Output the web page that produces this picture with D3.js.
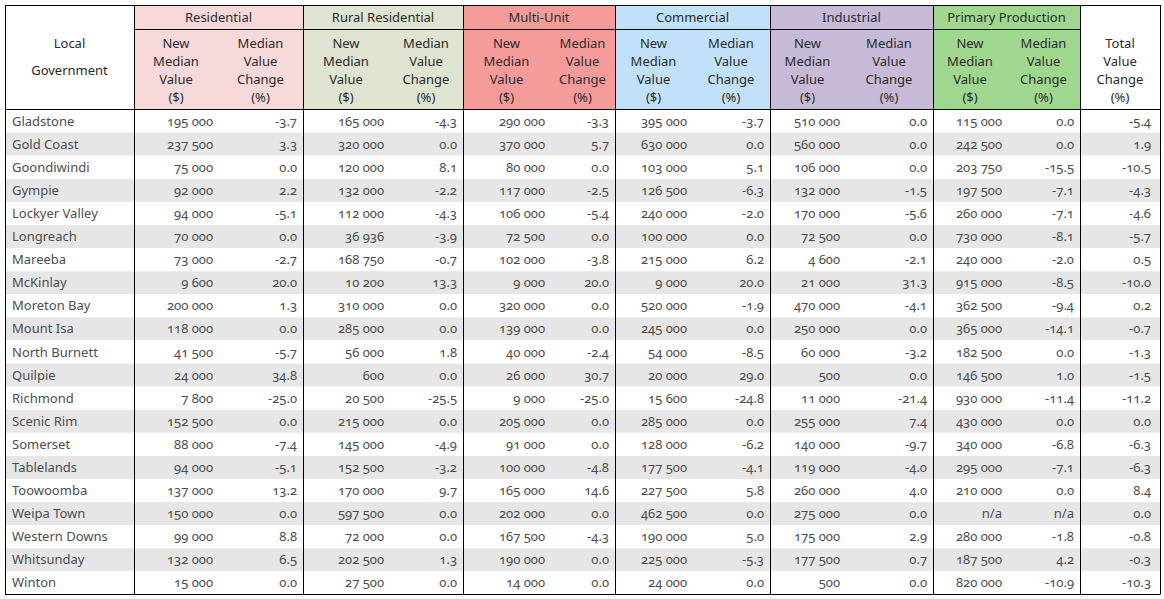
<!DOCTYPE html>
<html>
<head>
<meta charset="utf-8">
<script src="https://cdn.jsdelivr.net/npm/d3@7"></script>
<style>
  body { margin: 0; background: #fff; }
  svg text { font-family: "Noto Sans", "Open Sans", sans-serif; font-variant-numeric: oldstyle-nums; }
</style>
</head>
<body>
<svg></svg>
<script>
const lgas = ["Gladstone", "Gold Coast", "Goondiwindi", "Gympie", "Lockyer Valley", "Longreach", "Mareeba",
  "McKinlay", "Moreton Bay", "Mount Isa", "North Burnett", "Quilpie", "Richmond", "Scenic Rim", "Somerset",
  "Tablelands", "Toowoomba", "Weipa Town", "Western Downs", "Whitsunday", "Winton"]

const categories = ["Residential", "Rural Residential", "Multi-Unit", "Commercial", "Industrial", "Primary Production"]

const residentialValue = [195000, 237500, 75000, 92000, 94000, 70000, 73000, 9600, 200000, 118000, 41500, 24000, 7800, 152500, 88000, 94000, 137000, 150000, 99000, 132000, 15000]
const residentialChange = [-3.7, 3.3, 0.0, 2.2, -5.1, 0.0, -2.7, 20.0, 1.3, 0.0, -5.7, 34.8, -25.0, 0.0, -7.4, -5.1, 13.2, 0.0, 8.8, 6.5, 0.0]

const ruralValue = [165000, 320000, 120000, 132000, 112000, 36936, 168750, 10200, 310000, 285000, 56000, 600, 20500, 215000, 145000, 152500, 170000, 597500, 72000, 202500, 27500]
const ruralChange = [-4.3, 0.0, 8.1, -2.2, -4.3, -3.9, -0.7, 13.3, 0.0, 0.0, 1.8, 0.0, -25.5, 0.0, -4.9, -3.2, 9.7, 0.0, 0.0, 1.3, 0.0]

const multiValue = [290000, 370000, 80000, 117000, 106000, 72500, 102000, 9000, 320000, 139000, 40000, 26000, 9000, 205000, 91000, 100000, 165000, 202000, 167500, 190000, 14000]
const multiChange = [-3.3, 5.7, 0.0, -2.5, -5.4, 0.0, -3.8, 20.0, 0.0, 0.0, -2.4, 30.7, -25.0, 0.0, 0.0, -4.8, 14.6, 0.0, -4.3, 0.0, 0.0]

const commercialValue = [395000, 630000, 103000, 126500, 240000, 100000, 215000, 9000, 520000, 245000, 54000, 20000, 15600, 285000, 128000, 177500, 227500, 462500, 190000, 225000, 24000]
const commercialChange = [-3.7, 0.0, 5.1, -6.3, -2.0, 0.0, 6.2, 20.0, -1.9, 0.0, -8.5, 29.0, -24.8, 0.0, -6.2, -4.1, 5.8, 0.0, 5.0, -5.3, 0.0]

const industrialValue = [510000, 560000, 106000, 132000, 170000, 72500, 4600, 21000, 470000, 250000, 60000, 500, 11000, 255000, 140000, 119000, 260000, 275000, 175000, 177500, 500]
const industrialChange = [0.0, 0.0, 0.0, -1.5, -5.6, 0.0, -2.1, 31.3, -4.1, 0.0, -3.2, 0.0, -21.4, 7.4, -9.7, -4.0, 4.0, 0.0, 2.9, 0.7, 0.0]

// null = n/a
const primaryValue = [115000, 242500, 203750, 197500, 260000, 730000, 240000, 915000, 362500, 365000, 182500, 146500, 930000, 430000, 340000, 295000, 210000, null, 280000, 187500, 820000]
const primaryChange = [0.0, 0.0, -15.5, -7.1, -7.1, -8.1, -2.0, -8.5, -9.4, -14.1, 0.0, 1.0, -11.4, 0.0, -6.8, -7.1, 0.0, null, -1.8, 4.2, -10.9]

const totalChange = [-5.4, 1.9, -10.5, -4.3, -4.6, -5.7, 0.5, -10.0, 0.2, -0.7, -1.3, -1.5, -11.2, 0.0, -6.3, -6.3, 8.4, 0.0, -0.8, -0.3, -10.3]

const subHeadValue = ["New", "Median", "Value", "($)"]
const subHeadChange = ["Median", "Value", "Change", "(%)"]
const totalHead = ["Total", "Value", "Change", "(%)"]

const values = [residentialValue, ruralValue, multiValue, commercialValue, industrialValue, primaryValue]
const changes = [residentialChange, ruralChange, multiChange, commercialChange, industrialChange, primaryChange]

// layout
const W = 1164, H = 599
const tLeft = 5, tRight = 1160, tTop = 5, head1 = 29, head2 = 109.5, tBottom = 594.5
const lgaRight = 134, totalLeft = 1080
const edges = [134, 303, 463, 615, 770, 933, 1080]
const splits = [218, 389, 550, 692, 845, 1007]
const colors = ["#f8d9da", "#dee4cf", "#f59c9b", "#c1e1f8", "#c6bad7", "#a0d78f"]
const fs = 13

const svg = d3.select("svg")
  .attr("width", W)
  .attr("height", H)

const y = d3.scaleBand()
  .domain(lgas)
  .range([head2, tBottom])

// plain hyphen for negatives, space as thousands separator
const fmtValue = v => v == null ? "n/a" : d3.format(",")(v).replace(/,/g, " ")
const fmtChange = v => v == null ? "n/a" : d3.format(".1f")(v).replace("\u2212", "-")

// striped rows
svg.selectAll("rect.row")
  .data(lgas)
  .enter()
  .append("rect")
  .attr("class", "row")
  .attr("x", tLeft)
  .attr("y", d => y(d))
  .attr("width", tRight - tLeft)
  .attr("height", y.bandwidth())
  .attr("fill", (d, i) => i % 2 ? "#e6e6e6" : "#fff")

// header fills
svg.selectAll("rect.group")
  .data(categories)
  .enter()
  .append("rect")
  .attr("class", "group")
  .attr("x", (d, i) => edges[i])
  .attr("y", tTop)
  .attr("width", (d, i) => edges[i + 1] - edges[i])
  .attr("height", head2 - tTop)
  .attr("fill", (d, i) => colors[i])

// group titles
svg.selectAll("text.group")
  .data(categories)
  .enter()
  .append("text")
  .attr("class", "group")
  .attr("x", (d, i) => (edges[i] + edges[i + 1]) / 2)
  .attr("y", 22)
  .attr("text-anchor", "middle")
  .attr("font-size", fs)
  .attr("fill", "#2b2b2b")
  .text(d => d)

// sub headers
const subHead = (lines, cx) => {
  lines.forEach((t, k) => {
    svg.append("text")
      .attr("x", cx)
      .attr("y", 48 + k * 18)
      .attr("text-anchor", "middle")
      .attr("font-size", fs)
      .attr("fill", "#2b2b2b")
      .text(t)
  })
}
categories.forEach((c, i) => {
  subHead(subHeadValue, (edges[i] + splits[i]) / 2)
  subHead(subHeadChange, (splits[i] + edges[i + 1]) / 2)
})
subHead(totalHead, (totalLeft + tRight) / 2)

svg.append("text").attr("x", (tLeft + lgaRight) / 2).attr("y", 48)
  .attr("text-anchor", "middle").attr("font-size", fs).attr("fill", "#2b2b2b").text("Local")
svg.append("text").attr("x", (tLeft + lgaRight) / 2).attr("y", 75)
  .attr("text-anchor", "middle").attr("font-size", fs).attr("fill", "#2b2b2b").text("Government")

// body text
const cell = (arr, x, anchor, fmt) => {
  svg.append("g")
    .selectAll("text")
    .data(arr)
    .enter()
    .append("text")
    .attr("x", x)
    .attr("y", (d, i) => y(lgas[i]) + y.bandwidth() / 2 + 4.5)
    .attr("text-anchor", anchor)
    .attr("font-size", fs)
    .attr("fill", "#4d4d4d")
    .text(fmt)
}
cell(lgas, 12, "start", d => d)
categories.forEach((c, i) => {
  cell(values[i], splits[i] - 5, "end", fmtValue)
  cell(changes[i], edges[i + 1] - 6, "end", fmtChange)
})
cell(totalChange, tRight - 9, "end", fmtChange)

// grid lines
const line = (x1, y1, x2, y2) => svg.append("line")
  .attr("x1", x1).attr("y1", y1).attr("x2", x2).attr("y2", y2)
  .attr("stroke", "#000").attr("stroke-width", 1)

line(tLeft, tTop + 0.5, tRight, tTop + 0.5)
line(lgaRight, head1 + 0.5, totalLeft, head1 + 0.5)
line(tLeft, head2, tRight, head2)
line(tLeft, tBottom, tRight, tBottom)
;[tLeft].concat(edges, [tRight]).forEach(x => line(x + 0.5, tTop, x + 0.5, tBottom))
</script>
</body>
</html>
